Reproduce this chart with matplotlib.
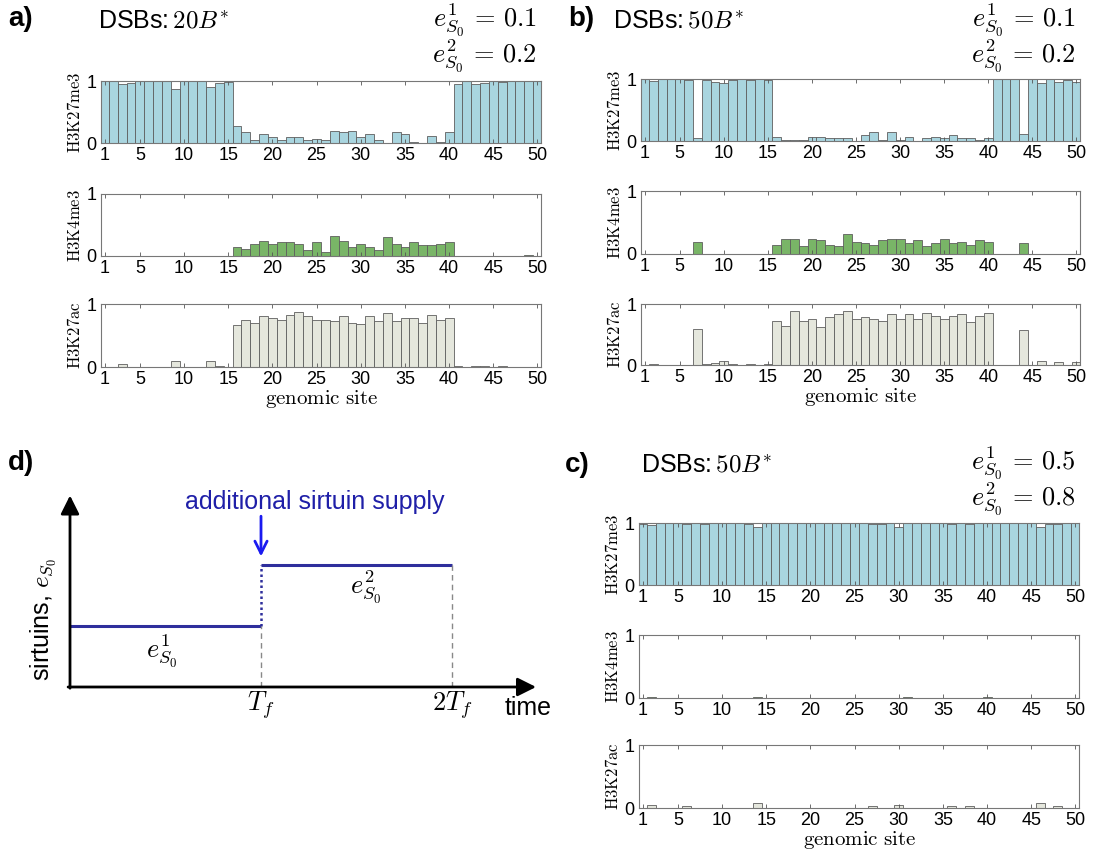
import matplotlib
matplotlib.use("Agg")
import matplotlib.pyplot as plt
import numpy as np

plt.rcParams['font.family'] = ['Liberation Sans', 'DejaVu Sans']
plt.rcParams['mathtext.fontset'] = 'cm'

W, H = 1093, 863

sites = np.arange(1, 51)
site_ticks = [1, 5, 10, 15, 20, 25, 30, 35, 40, 45, 50]

# a) 20 DSBs, e1 = 0.1, e2 = 0.2
a_k27me3 = [1.0, 1.0, 0.95, 0.97, 1.0, 1.0, 1.0, 1.0, 0.87, 1.0,
            1.0, 1.0, 0.90, 0.97, 0.99, 0.27, 0.17, 0.05, 0.15, 0.10,
            0.05, 0.10, 0.10, 0.05, 0.07, 0.05, 0.20, 0.17, 0.19, 0.10,
            0.14, 0.05, 0.0, 0.17, 0.15, 0.02, 0.0, 0.12, 0.02, 0.17,
            0.95, 1.0, 0.95, 0.97, 1.0, 0.98, 1.0, 1.0, 1.0, 1.0]
a_k4me3 = [0, 0, 0, 0, 0, 0, 0, 0, 0, 0,
           0, 0, 0, 0, 0, 0.145, 0.12, 0.19, 0.24, 0.19,
           0.22, 0.22, 0.19, 0.10, 0.22, 0.06, 0.32, 0.24, 0.145, 0.19,
           0.145, 0.10, 0.30, 0.19, 0.145, 0.22, 0.17, 0.17, 0.19, 0.22,
           0, 0, 0, 0, 0, 0, 0, 0, 0.02, 0]
a_k27ac = [0, 0, 0.05, 0, 0, 0, 0, 0, 0.10, 0,
           0, 0, 0.10, 0.02, 0, 0.66, 0.75, 0.70, 0.81, 0.78,
           0.75, 0.83, 0.87, 0.81, 0.75, 0.75, 0.73, 0.81, 0.70, 0.68,
           0.81, 0.73, 0.86, 0.73, 0.78, 0.78, 0.70, 0.83, 0.75, 0.78,
           0.02, 0, 0.02, 0.02, 0, 0.02, 0, 0, 0, 0]

# b) 50 DSBs, e1 = 0.1, e2 = 0.2
b_k27me3 = [1.0, 0.97, 1.0, 1.0, 1.0, 0.98, 0.05, 0.98, 0.95, 0.93,
            0.98, 1.0, 0.98, 1.0, 0.98, 0.06, 0.02, 0.02, 0.02, 0.06,
            0.06, 0.05, 0.05, 0.05, 0.0, 0.09, 0.14, 0.02, 0.14, 0.02,
            0.06, 0.0, 0.05, 0.06, 0.05, 0.10, 0.05, 0.05, 0.02, 0.05,
            1.0, 1.0, 1.0, 0.12, 1.0, 0.93, 1.0, 0.95, 0.98, 0.95]
b_k4me3 = [0, 0, 0, 0, 0, 0, 0.19, 0, 0, 0,
           0, 0, 0, 0, 0, 0.14, 0.24, 0.24, 0.12, 0.24,
           0.22, 0.14, 0.12, 0.32, 0.19, 0.17, 0.14, 0.22, 0.24, 0.24,
           0.17, 0.22, 0.12, 0.17, 0.24, 0.17, 0.19, 0.14, 0.22, 0.19,
           0, 0, 0, 0.17, 0, 0, 0, 0, 0, 0]
b_k27ac = [0, 0.01, 0, 0, 0, 0, 0.59, 0.02, 0.04, 0.07,
           0.02, 0, 0.02, 0, 0.02, 0.72, 0.64, 0.88, 0.72, 0.75,
           0.62, 0.78, 0.83, 0.88, 0.75, 0.78, 0.75, 0.72, 0.83, 0.75,
           0.83, 0.75, 0.85, 0.80, 0.75, 0.80, 0.83, 0.70, 0.80, 0.85,
           0, 0, 0, 0.57, 0, 0.07, 0, 0.05, 0, 0.05]

# c) 50 DSBs, e1 = 0.5, e2 = 0.8
c_k27me3 = [0.98, 0.96, 1.0, 1.0, 1.0, 0.98, 1.0, 0.98, 1.0, 1.0,
            1.0, 1.0, 0.98, 0.93, 1.0, 1.0, 1.0, 1.0, 1.0, 1.0,
            1.0, 1.0, 1.0, 1.0, 1.0, 1.0, 0.98, 0.98, 1.0, 0.93,
            1.0, 1.0, 1.0, 1.0, 1.0, 0.98, 1.0, 0.98, 1.0, 1.0,
            1.0, 1.0, 1.0, 1.0, 1.0, 0.93, 0.98, 0.98, 1.0, 1.0]
c_k4me3 = [0, 0.015, 0, 0, 0, 0, 0, 0, 0, 0,
           0, 0, 0, 0.015, 0, 0, 0, 0, 0, 0,
           0, 0, 0, 0, 0, 0, 0, 0, 0, 0,
           0.015, 0, 0, 0, 0, 0, 0, 0, 0, 0.015,
           0, 0, 0, 0, 0, 0, 0, 0, 0, 0]
c_k27ac = [0, 0.05, 0, 0, 0, 0.03, 0, 0, 0, 0,
           0, 0, 0, 0.08, 0, 0, 0, 0, 0, 0,
           0, 0, 0, 0, 0, 0, 0.03, 0, 0, 0.05,
           0, 0, 0, 0, 0, 0.03, 0, 0.03, 0, 0,
           0, 0, 0, 0, 0, 0.08, 0, 0.03, 0, 0]

# d) schematic of the sirtuin supply
t_marks = [1, 2]
e_levels = [0.5, 1.0]

col_k27me3 = '#a9d5df'
col_k4me3 = '#79b567'
col_k27ac = '#e5e7dd'
navy = '#2e2e9c'


def px_axes(fig, x0, y0, x1, y1):
    return fig.add_axes([x0 / W, 1 - y1 / H, (x1 - x0) / W, (y1 - y0) / H])


def fig_text(fig, x, y, s, **kw):
    fig.text(x / W, 1 - y / H, s, **kw)


def bar_panel(ax, vals, color, ylabel, xlabel=None):
    ax.bar(sites, vals, width=1.0, color=color, edgecolor='#5e5e5e', linewidth=0.6)
    ax.set_xlim(0.6, 50.4)
    ax.set_ylim(0, 1)
    ax.set_xticks(site_ticks)
    ax.set_yticks([0, 1])
    ax.tick_params(direction='in', top=True, right=True, length=3, width=0.6,
                   color='#555555', labelsize=13, pad=3)
    for s in ax.spines.values():
        s.set_color('#777777')
        s.set_linewidth(0.8)
    ax.set_ylabel(ylabel, fontsize=12, labelpad=3)
    if xlabel:
        ax.set_xlabel(xlabel, fontsize=15, labelpad=0)


fig = plt.figure(figsize=(W / 100, H / 100), dpi=100)

ylabels = [r'$\mathrm{H3K27me3}$', r'$\mathrm{H3K4me3}$', r'$\mathrm{H3K27ac}$']
colors = [col_k27me3, col_k4me3, col_k27ac]
xlab = r'$\mathrm{genomic\ site}$'

# panel a
rows_a = [(81, 143), (194, 256), (304, 367)]
for (y0, y1), vals, c, yl in zip(rows_a, [a_k27me3, a_k4me3, a_k27ac], colors, ylabels):
    ax = px_axes(fig, 101, y0, 541, y1)
    bar_panel(ax, vals, c, yl, xlab if y0 == 304 else None)

# panel b
rows_b = [(79, 141), (191, 254), (304, 365)]
for (y0, y1), vals, c, yl in zip(rows_b, [b_k27me3, b_k4me3, b_k27ac], colors, ylabels):
    ax = px_axes(fig, 641, y0, 1080, y1)
    bar_panel(ax, vals, c, yl, xlab if y0 == 304 else None)

# panel c
rows_c = [(523, 585), (635, 698), (745, 808)]
for (y0, y1), vals, c, yl in zip(rows_c, [c_k27me3, c_k4me3, c_k27ac], colors, ylabels):
    ax = px_axes(fig, 639, y0, 1079, y1)
    bar_panel(ax, vals, c, yl, xlab if y0 == 745 else None)

# panel d
axd = px_axes(fig, 70, 480, 560, 687)
axd.set_xlim(0, 490 / 191)
axd.set_ylim(0, 207 / 122)
axd.axis('off')
arrow_kw = dict(arrowstyle='-|>', color='black', lw=2, mutation_scale=28,
                shrinkA=0, shrinkB=0)
axd.annotate('', xy=(2.44, 0), xytext=(-0.01, 0), arrowprops=arrow_kw,
             annotation_clip=False)
axd.annotate('', xy=(0, 1.57), xytext=(0, -0.01), arrowprops=arrow_kw,
             annotation_clip=False)
axd.plot([0, t_marks[0]], [e_levels[0], e_levels[0]], color=navy, lw=2.2,
         solid_capstyle='butt')
axd.plot([t_marks[0], t_marks[1]], [e_levels[1], e_levels[1]], color=navy, lw=2.2,
         solid_capstyle='butt')
axd.plot([t_marks[0], t_marks[0]], [e_levels[0], e_levels[1]], color=navy, lw=1.8,
         linestyle=(0, (1, 1.2)))
axd.plot([t_marks[0], t_marks[0]], [0, e_levels[0]], color='#888888', lw=1,
         linestyle=(0, (4, 3)))
axd.plot([t_marks[1], t_marks[1]], [0, e_levels[1]], color='#888888', lw=1,
         linestyle=(0, (4, 3)))
axd.annotate('', xy=(t_marks[0], 1.07), xytext=(t_marks[0], 1.40),
             arrowprops=dict(arrowstyle='->', color='#1a1af0', lw=2,
                             mutation_scale=22, shrinkA=0, shrinkB=0),
             annotation_clip=False)
axd.text(1.28, 1.52, 'additional sirtuin supply', color='#1f1fa8', fontsize=18,
         ha='center', va='center', clip_on=False)
axd.text(0.48, 0.30, r'$e^{1}_{S_0}$', fontsize=19, ha='center', va='center')
axd.text(1.55, 0.82, r'$e^{2}_{S_0}$', fontsize=19, ha='center', va='center')
axd.text(t_marks[0], -0.15, r'$T_f$', fontsize=19, ha='center', va='center',
         clip_on=False)
axd.text(t_marks[1], -0.15, r'$2T_f$', fontsize=19, ha='center', va='center',
         clip_on=False)
axd.text(2.40, -0.17, 'time', fontsize=18, ha='center', va='center', clip_on=False)
axd.text(-0.14, 0.55, r'sirtuins, $e_{S_0}$', fontsize=18, rotation=90,
         ha='center', va='center', clip_on=False)

# panel labels and parameter captions
for x, y, s in [(8, 19, 'a)'), (568, 19, 'b)'), (565, 465, 'c)'), (8, 463, 'd)')]:
    fig_text(fig, x, y, s, fontsize=20, fontweight='bold', va='center')

for x, y, n in [(98, 21, 20), (613, 21, 50), (641, 464, 50)]:
    fig_text(fig, x, y, 'DSBs:$\\,%dB^{*}$' % n, fontsize=18, va='center')

for xr, y, e1, e2 in [(537, 20, 0.1, 0.2), (1076, 20, 0.1, 0.2), (1076, 463, 0.5, 0.8)]:
    fig_text(fig, xr, y, r'$e^{1}_{S_0}\,=\,%.1f$' % e1, fontsize=19, ha='right', va='center')
    fig_text(fig, xr, y + 36, r'$e^{2}_{S_0}\,=\,%.1f$' % e2, fontsize=19, ha='right', va='center')

fig.savefig('out.png', dpi=100)
